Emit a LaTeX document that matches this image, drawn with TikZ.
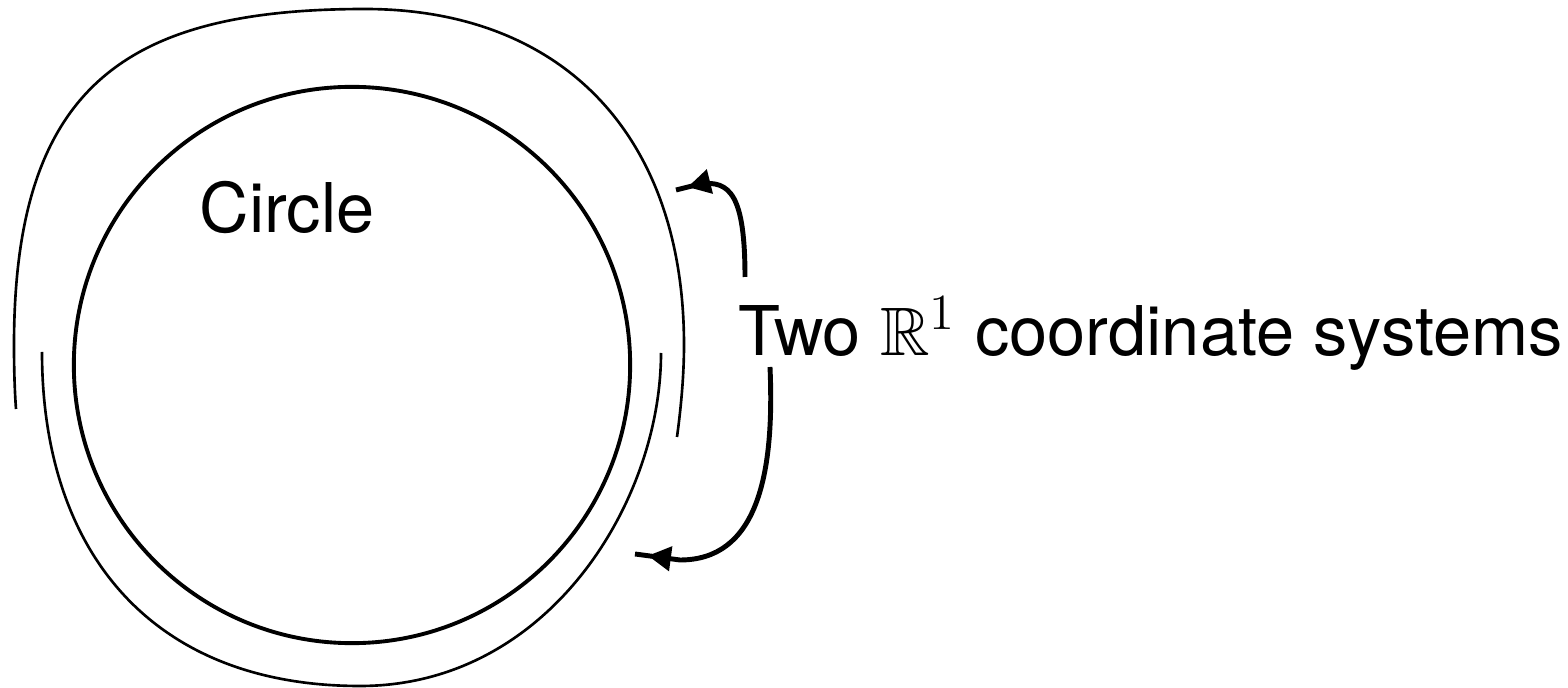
\documentclass[tikz,border=0pt]{standalone}
\usepackage{fontspec}
\setmainfont{TeX Gyre Heros}
\usepackage{amssymb}
\usetikzlibrary{arrows.meta,decorations.markings}

\tikzset{
  ring/.style={line width=1.1pt},
  band/.style={line width=0.75pt},
  lbl/.style={font=\fontsize{19.5}{23}\selectfont, inner sep=0pt, anchor=base west},
  headed/.style={line width=1.4pt,
    postaction={decorate},
    decoration={markings,
      mark=at position #1 with {\arrow{Triangle[length=0.23cm,width=0.24cm]}}}},
}

\begin{document}
\begin{tikzpicture}[x=0.01cm, y=-0.01cm]
  \useasboundingbox (0,0) rectangle (1568,688);

  % the circle itself
  \coordinate (c) at (352,365);
  \draw[ring] (c) circle[radius=2.78cm];

  % first chart: open band over the top
  \coordinate (ta) at (16,409);
  \coordinate (tb) at (677,437);
  \draw[band] (ta)
    .. controls (15,395) and (14,375) .. (14,345)
    .. controls (14,86) and (126,9) .. (365,9)
    .. controls (561,9) and (684,134) .. (684,345)
    .. controls (684,380) and (680,415) .. (tb);

  % second chart: open band under the bottom
  \coordinate (ba) at (42,352);
  \coordinate (bb) at (661,353);
  \draw[band] (ba)
    .. controls (42,550) and (150,686) .. (360,686)
    .. controls (549,686) and (661,501) .. (bb);

  % labels
  \node[lbl] (circ) at (199,233) {Circle};
  \node[lbl] (sys) at (738,356) {Two $\mathbb{R}^1$ coordinate systems};

  % pointers from the label to the two bands
  \coordinate (up0) at (745,277);
  \coordinate (up1) at (676,190);
  \coordinate (dn0) at (770,367);
  \coordinate (dn1) at (635,554);

  \draw[headed=-3.4pt] (up0) .. controls (745,195) and (730,180) .. (700,184) -- (up1);
  \draw[headed=-3.7pt] (dn0) .. controls (775,480) and (755,560) .. (680,560) -- (dn1);
\end{tikzpicture}
\end{document}
